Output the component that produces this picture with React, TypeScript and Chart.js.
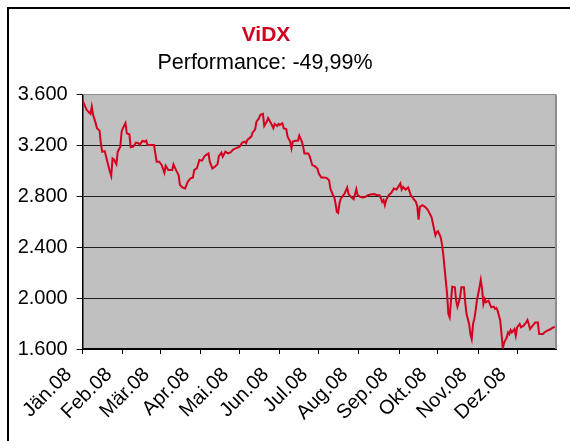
import { useEffect, useRef } from "react";
import { Chart, registerables } from "chart.js";

Chart.register(...registerables);

const chartTitle = "ViDX";
const chartSubtitle = "Performance: -49,99%";

const monthLabels = ["Jän.08", "Feb.08", "Mär.08", "Apr.08", "Mai.08", "Jun.08", "Jul.08", "Aug.08", "Sep.08", "Okt.08", "Nov.08", "Dez.08"];
const monthStartDays = [0, 31, 60, 91, 121, 152, 182, 213, 244, 274, 305, 335];

const yMin = 1600;
const yMax = 3600;
const yStep = 400;

// day of year 2008 (0 = 1 Jan)
const tradingDays = [
  0, 3, 6, 7, 8, 10, 11, 13, 14, 15, 17, 19, 21, 22, 23, 24, 26, 27, 29, 30,
  31, 33, 34, 36, 37, 39, 41, 43, 44, 46, 48, 49, 50, 53, 55, 57, 59, 61, 63, 64,
  66, 69, 70, 72, 74, 75, 77, 79, 81, 83, 85, 86, 88, 90, 92, 94, 95, 97, 98, 100,
  102, 104, 105, 107, 108, 110, 112, 114, 116, 118, 121, 123, 125, 126, 127, 130, 131, 133, 134, 136,
  137, 139, 140, 142, 143, 145, 147, 148, 150, 151, 152, 154, 155, 157, 158, 160, 161, 162, 164, 166,
  167, 169, 170, 171, 174, 175, 177, 179, 181, 182, 184, 186, 188, 190, 191, 193, 194, 195, 196, 197,
  198, 199, 202, 204, 205, 207, 209, 211, 212, 214, 216, 218, 220, 222, 225, 227, 229, 231, 232, 233,
  234, 236, 238, 240, 242, 243, 245, 246, 247, 249, 251, 253, 255, 257, 258, 259, 260, 262, 264, 266,
  269, 270, 272, 273, 274, 276, 277, 278, 279, 281, 282, 283, 284, 285, 287, 288, 289, 290, 291, 292,
  294, 295, 296, 298, 299, 300, 301, 302, 303, 304, 306, 307, 308, 309, 310, 311, 313, 314, 315, 317,
  318, 319, 320, 322, 323, 324, 325, 327, 328, 329, 330, 331, 333, 334, 335, 337, 338, 340, 341, 342,
  343, 344, 345, 347, 348, 349, 351, 352, 355, 356, 358, 361, 362, 364,
];

const indexValues = [
  3550, 3480, 3448, 3505, 3440, 3375, 3335, 3316, 3217, 3150, 3155, 3072, 2993, 2960, 3098, 3090, 3053, 3150, 3190, 3308,
  3335, 3375, 3295, 3287, 3185, 3190, 3222, 3217, 3203, 3235, 3230, 3237, 3203, 3203, 3203, 3072, 3072, 3045, 2985, 3040,
  3006, 3006, 3051, 3006, 2966, 2888, 2869, 2861, 2914, 2940, 2948, 3006, 3019, 3085, 3080, 3116, 3124, 3137, 3072, 3019,
  3032, 3053, 3116, 3143, 3111, 3150, 3137, 3145, 3168, 3176, 3190, 3222, 3230, 3217, 3243, 3269, 3300, 3327, 3387, 3414,
  3440, 3448, 3353, 3387, 3414, 3379, 3335, 3369, 3353, 3369, 3361, 3374, 3335, 3327, 3269, 3230, 3177, 3230, 3237, 3237,
  3277, 3230, 3190, 3137, 3137, 3116, 3045, 3037, 3019, 2980, 2948, 2948, 2945, 2927, 2861, 2809, 2795, 2743, 2677, 2669,
  2743, 2782, 2822, 2869, 2817, 2795, 2777, 2856, 2809, 2795, 2790, 2795, 2809, 2814, 2817, 2809, 2809, 2756, 2770, 2730,
  2770, 2809, 2827, 2861, 2853, 2869, 2901, 2853, 2874, 2853, 2869, 2809, 2782, 2756, 2722, 2617, 2717, 2730, 2717, 2696,
  2637, 2590, 2493, 2519, 2527, 2480, 2428, 2349, 2243, 2033, 1875, 1849, 1980, 2090, 2085, 1980, 1933, 1967, 2006, 2085,
  2085, 1967, 1875, 1796, 1717, 1678, 1796, 1836, 1901, 1980, 2085, 2143, 2072, 1954, 1993, 1967, 1980, 1954, 1928, 1933,
  1915, 1922, 1901, 1822, 1717, 1607, 1651, 1690, 1730, 1717, 1749, 1730, 1757, 1704, 1770, 1796, 1770, 1783, 1796, 1809,
  1828, 1796, 1757, 1783, 1796, 1809, 1809, 1717, 1717, 1730, 1743, 1757, 1765, 1775,
];

const RED = "#D4001F";
const FONT = '"Liberation Sans", Arial, sans-serif';

function formatThousands(v: number): string {
  return Math.round(v).toString().replace(/\B(?=(\d{3})+(?!\d))/g, ".");
}

const plotFrame = {
  id: "plotFrame",
  beforeDraw(chart: any) {
    const { ctx, chartArea } = chart;
    const { left, top, right, bottom } = chartArea;
    ctx.save();
    ctx.fillStyle = "#C0C0C0";
    ctx.fillRect(left, top, right - left, bottom - top);
    ctx.restore();
  },
  afterDraw(chart: any) {
    const { ctx, chartArea } = chart;
    const { left, top, right, bottom } = chartArea;
    ctx.save();
    ctx.strokeStyle = "#8C8C8C";
    ctx.lineWidth = 2;
    ctx.beginPath();
    ctx.moveTo(right, top);
    ctx.lineTo(right, bottom);
    ctx.stroke();
    ctx.lineWidth = 1;
    ctx.beginPath();
    ctx.moveTo(left, top);
    ctx.lineTo(right, top);
    ctx.stroke();
    ctx.restore();
  },
};

export default function App() {
  const canvasRef = useRef<HTMLCanvasElement | null>(null);

  useEffect(() => {
    if (!canvasRef.current) return;
    const points = tradingDays.map((d, i) => ({ x: d, y: indexValues[i] }));
    const chart = new Chart(canvasRef.current, {
      type: "line",
      data: {
        datasets: [
          {
            data: points,
            borderColor: RED,
            borderWidth: 2,
            pointRadius: 0,
            tension: 0,
            fill: false,
          },
        ],
      },
      options: {
        animation: false,
        responsive: false,
        devicePixelRatio: 1,
        layout: { padding: { top: 94.5, right: 14, left: 0, bottom: 0 } },
        plugins: {
          legend: { display: false },
          tooltip: { enabled: false },
          title: { display: false },
        },
        scales: {
          x: {
            type: "linear",
            min: 0,
            max: 365,
            afterBuildTicks: (scale: any) => {
              scale.ticks = monthStartDays.map((v) => ({ value: v }));
            },
            afterFit: (scale: any) => {
              scale.height = 92;
            },
            ticks: {
              callback: (_v: any, i: number) => monthLabels[i],
              autoSkip: false,
              minRotation: 45,
              maxRotation: 45,
              padding: 9,
              labelOffset: -14,
              color: "#000",
              font: { family: FONT, size: 20 },
            },
            grid: {
              drawOnChartArea: false,
              drawTicks: true,
              tickLength: 5,
              color: "#000",
              tickColor: "#000",
            },
            border: { display: true, color: "#000", width: 2 },
          },
          y: {
            min: yMin,
            max: yMax,
            afterFit: (scale: any) => {
              scale.width = 82.7;
            },
            ticks: {
              stepSize: yStep,
              padding: 9,
              color: "#000",
              font: { family: FONT, size: 20 },
              callback: (v: any) => formatThousands(Number(v)),
            },
            grid: {
              color: (ctx: any) => (ctx.tick && ctx.tick.value === yMax ? "#8C8C8C" : "#1E1E1E"),
              lineWidth: 1,
              tickLength: 6,
              tickColor: "#000",
            },
            border: { display: true, color: "#000", width: 1.5 },
          },
        },
      },
      plugins: [plotFrame],
    });
    return () => chart.destroy();
  }, []);

  return (
    <div
      style={{
        position: "fixed",
        left: 0,
        top: 0,
        width: 570,
        height: 441,
        overflow: "hidden",
        background: "#fff",
        fontFamily: FONT,
      }}
    >
      <div
        style={{
          position: "absolute",
          left: 7,
          top: 7,
          width: 640,
          height: 520,
          border: "2px solid #000",
          boxSizing: "border-box",
        }}
      />
      <canvas ref={canvasRef} width={570} height={441} style={{ position: "absolute", left: 0, top: 0 }} />
      <div
        style={{
          position: "absolute",
          left: 0,
          top: 21.5,
          width: 532,
          textAlign: "center",
          fontSize: 21,
          lineHeight: "24px",
          fontWeight: "bold",
          color: RED,
          whiteSpace: "nowrap",
        }}
      >
        {chartTitle}
      </div>
      <div
        style={{
          position: "absolute",
          left: 0,
          top: 49.75,
          width: 530,
          textAlign: "center",
          fontSize: 21.5,
          lineHeight: "24px",
          color: "#000",
          whiteSpace: "nowrap",
        }}
      >
        {chartSubtitle}
      </div>
    </div>
  );
}
